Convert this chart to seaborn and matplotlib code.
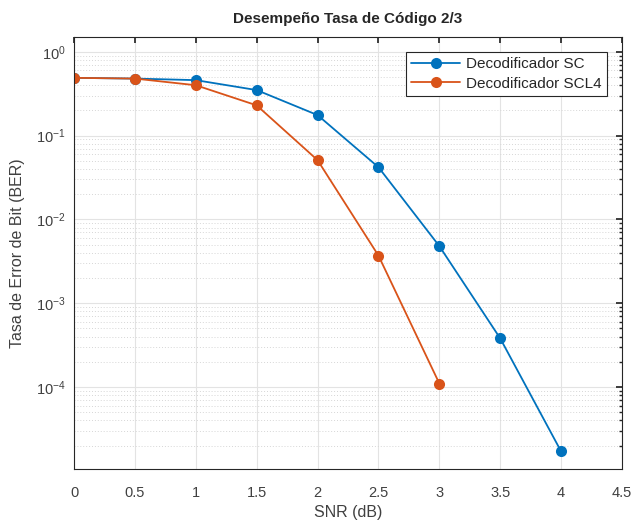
import numpy as np
import pandas as pd
import seaborn as sns
import matplotlib.pyplot as plt
from matplotlib.ticker import LogLocator, NullFormatter

# datos
snr_sc = [0, 0.5, 1, 1.5, 2, 2.5, 3, 3.5, 4]
ber_sc = [0.49, 0.48, 0.46, 0.35, 0.176, 0.042, 0.0048, 3.8e-4, 1.7e-5]
snr_scl4 = [0, 0.5, 1, 1.5, 2, 2.5, 3]
ber_scl4 = [0.49, 0.48, 0.40, 0.23, 0.051, 0.0037, 1.1e-4]
x_ticks = [0, 0.5, 1, 1.5, 2, 2.5, 3, 3.5, 4, 4.5]
x_tick_labels = ['0', '0.5', '1', '1.5', '2', '2.5', '3', '3.5', '4', '4.5']
labels = ['Decodificador SC', 'Decodificador SCL4']

df = pd.concat([
    pd.DataFrame({'SNR': snr_sc, 'BER': ber_sc, 'Decodificador': labels[0]}),
    pd.DataFrame({'SNR': snr_scl4, 'BER': ber_scl4, 'Decodificador': labels[1]}),
])

sns.set_theme(style="white")
plt.rcParams['font.family'] = ['Liberation Sans', 'DejaVu Sans']

fig = plt.figure(figsize=(6.36, 5.23), dpi=100)
ax = fig.add_axes([0.1164, 0.1033, 0.8616, 0.8257])

palette = {labels[0]: '#0072BD', labels[1]: '#D95319'}
sns.lineplot(data=df, x='SNR', y='BER', hue='Decodificador', palette=palette,
             marker='o', markersize=8, markeredgewidth=0, linewidth=1.3,
             ax=ax, legend=True)

ax.set_yscale('log')
ax.set_xlim(0, 4.5)
ax.set_ylim(1.05e-5, 1.5)
ax.set_xticks(x_ticks)
ax.set_xticklabels(x_tick_labels)
ax.yaxis.set_major_locator(LogLocator(base=10, numticks=10))
ax.yaxis.set_minor_locator(LogLocator(base=10, subs=np.arange(2, 10), numticks=20))
ax.yaxis.set_minor_formatter(NullFormatter())

ax.grid(True, which='major', color='#e3e3e3', linewidth=0.8)
ax.grid(True, which='minor', axis='y', color='#d6d6d6', linestyle=(0, (1, 2)), linewidth=0.7)
ax.set_axisbelow(True)

for s in ax.spines.values():
    s.set_color('#262626')
    s.set_linewidth(0.8)
ax.tick_params(which='both', direction='in', top=True, right=True,
               colors='#262626', labelcolor='#404040', labelsize=10.5)
ax.tick_params(which='major', length=4)
ax.tick_params(which='minor', length=2)
ax.tick_params(axis='x', pad=12)
ax.tick_params(axis='y', pad=6)

ax.set_xlabel('SNR (dB)', fontsize=11.5, color='#404040', labelpad=4)
ax.set_ylabel('Tasa de Error de Bit (BER)', fontsize=11.5, color='#404040', labelpad=8)
ax.set_title('Desempeño Tasa de Código 2/3', fontsize=11, fontweight='bold', pad=10)

leg = ax.legend(loc='upper right', fontsize=11, frameon=True, fancybox=False,
                edgecolor='#262626', framealpha=1, borderpad=0.35,
                handlelength=3.2, handletextpad=0.4, labelspacing=0.35,
                borderaxespad=0, bbox_to_anchor=(0.973, 0.966))
leg.get_frame().set_linewidth(0.8)

fig.savefig('out.png', dpi=100)
